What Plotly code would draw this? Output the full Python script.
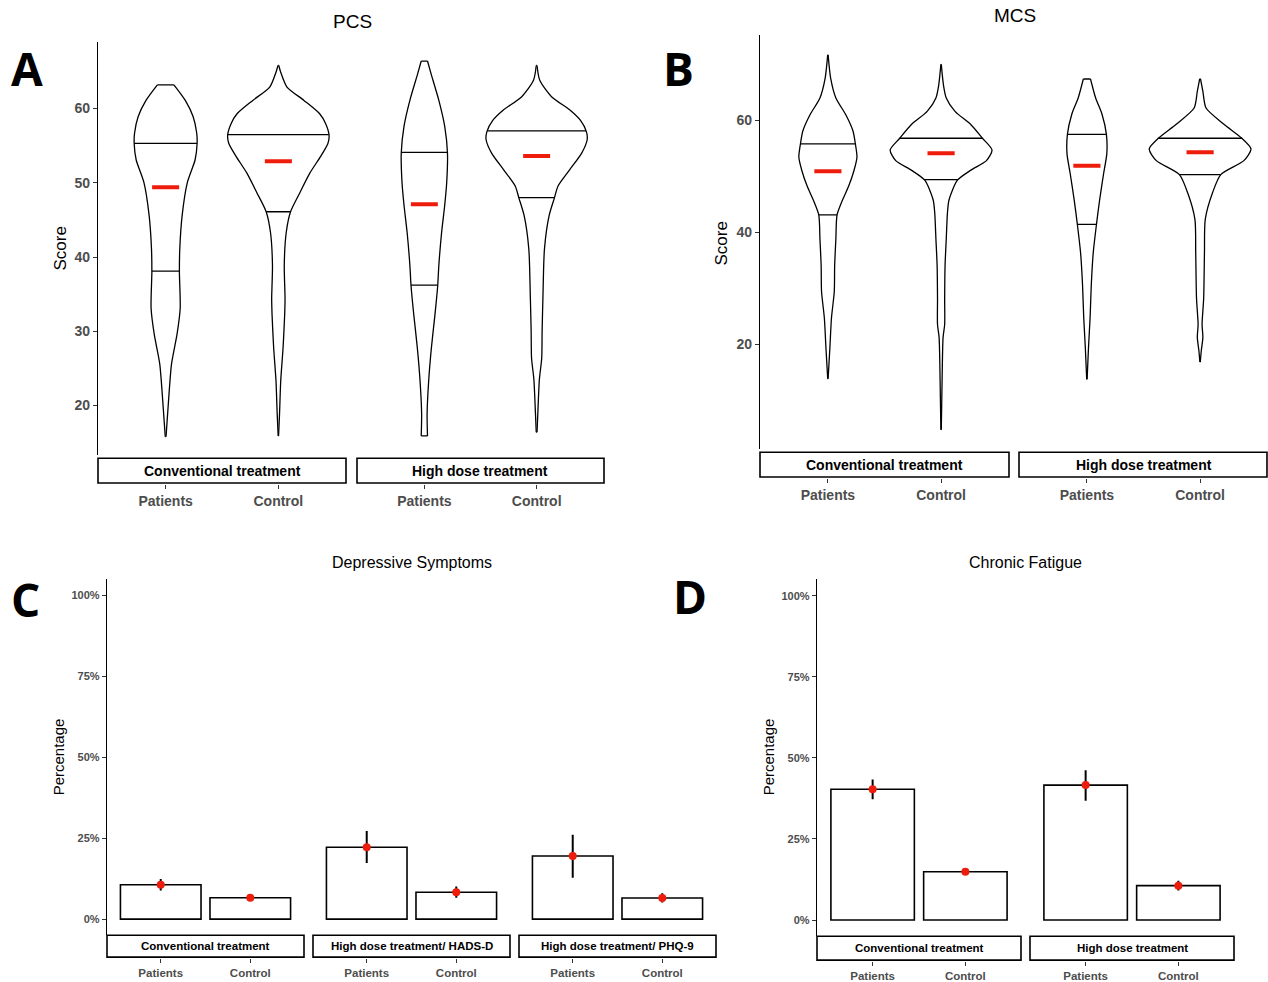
import numpy as np
import plotly.graph_objects as go

W, H = 1268, 982
groups = ["Patients", "Control"]

# ---------------- Panel A: PCS violin profiles (score level, relative density) ----------
pcs_conv_pat_y = [63.2, 61.1, 58.9, 56.7, 55.3, 53.1, 50.0, 45.6, 41.1, 38.0, 33.1, 29.6, 25.6, 21.1, 15.8]
pcs_conv_pat_d = [21, 50, 70, 79, 80, 75, 55, 42, 36, 35, 37, 29, 15, 8, 1]
pcs_conv_ctl_y = [65.8, 64.9, 62.9, 61.1, 59.3, 58.0, 56.4, 55.3, 53.6, 51.3, 48.7, 46.1, 43.3, 38.9, 34.4, 32.2, 27.8, 23.3, 18.9, 15.9]
pcs_conv_ctl_d = [1, 6, 22, 65, 105, 120, 129, 126, 108, 80, 55, 31, 20, 15, 17, 16, 12, 6, 3, 0.5]
pcs_high_pat_y = [66.4, 64.7, 61.1, 57.6, 54.0, 50.0, 47.0, 43.3, 38.9, 36.1, 32.2, 27.8, 23.3, 18.9, 15.9]
pcs_high_pat_d = [8, 17, 37, 52, 59, 57, 52, 44, 37, 34, 27, 18, 11, 7, 8]
pcs_high_ctl_y = [65.8, 63.8, 61.6, 59.8, 58.4, 56.9, 55.8, 54.0, 51.8, 49.6, 47.9, 45.6, 41.1, 34.4, 30.0, 26.4, 23.5, 18.9, 16.4]
pcs_high_ctl_d = [1, 8, 38, 85, 112, 127, 129, 115, 85, 55, 45, 32, 20, 16, 14, 13, 7, 3, 1]
pcs_q25 = [38.1, 46.1, 36.2, 48.0]
pcs_q75 = [55.3, 56.5, 54.1, 57.0]
pcs_mean = [49.4, 52.9, 47.1, 53.6]

# ---------------- Panel B: MCS violin profiles ----------------
mcs_conv_pat_y = [71.7, 67.5, 64.0, 61.0, 58.1, 55.8, 53.4, 50.9, 48.2, 45.8, 43.1, 38.8, 34.1, 29.4, 24.7, 19.4, 13.8]
mcs_conv_pat_d = [0.5, 7, 20, 45, 63, 69, 73, 65, 52, 37, 23, 20, 17, 16, 9, 5, 0.5]
mcs_conv_ctl_y = [70.0, 66.3, 64.0, 61.6, 59.3, 56.8, 54.7, 52.8, 51.1, 49.3, 45.8, 43.5, 38.8, 34.1, 28.2, 23.5, 21.2, 13.5, 4.7]
mcs_conv_ctl_d = [0.5, 6, 13, 35, 74, 104, 128, 114, 75, 41, 20, 16, 13, 10, 9, 9, 5, 2.5, 0.5]
mcs_high_pat_y = [67.4, 64.0, 61.1, 57.5, 54.0, 50.5, 45.8, 41.4, 36.4, 30.6, 24.7, 19.4, 13.7]
mcs_high_pat_d = [9, 22, 38, 49, 50, 42, 32, 24, 16, 11, 8, 4, 0.5]
mcs_high_ctl_y = [67.4, 65.2, 62.2, 59.3, 56.8, 54.9, 52.8, 50.3, 47.0, 42.3, 36.4, 28.2, 23.5, 21.2, 18.8, 16.8]
mcs_high_ctl_d = [1, 7, 15, 60, 105, 128, 110, 52, 31, 13, 11, 9, 5, 7, 3, 0.5]
mcs_q25 = [43.1, 49.4, 41.4, 50.3]
mcs_q75 = [55.8, 56.8, 57.5, 56.8]
mcs_mean = [50.9, 54.1, 51.9, 54.3]

# ---------------- Panel C: Depressive symptoms (%) ----------------
dep_facets = ["Conventional treatment", "High dose treatment/ HADS-D", "High dose treatment/ PHQ-9"]
dep_conv = [10.6, 6.6]
dep_conv_lo = [8.8, 5.9]
dep_conv_hi = [12.4, 7.3]
dep_hads = [22.2, 8.3]
dep_hads_lo = [17.3, 6.6]
dep_hads_hi = [27.2, 10.1]
dep_phq = [19.5, 6.5]
dep_phq_lo = [12.8, 5.1]
dep_phq_hi = [26.1, 8.0]

# ---------------- Panel D: Chronic fatigue (%) ----------------
fat_facets = ["Conventional treatment", "High dose treatment"]
fat_conv = [40.3, 14.9]
fat_conv_lo = [37.2, 13.9]
fat_conv_hi = [43.3, 15.9]
fat_high = [41.6, 10.6]
fat_high_lo = [36.8, 9.1]
fat_high_hi = [46.2, 12.1]

pct_ticks = [0, 25, 50, 75, 100]
pct_labels = ["0%", "25%", "50%", "75%", "100%"]

RED = "#EE1C0A"
TICKCOL = "#4D4D4D"
NARROW = "Liberation Sans Narrow, Arial Narrow, Liberation Sans, Arial, sans-serif"
SANS = "Liberation Sans, Arial, sans-serif"
BIG = "Open Sans, Liberation Sans, sans-serif"

fig = go.Figure()


def px_x(p):
    return p / W


def px_y(p):
    return 1 - p / H


def seg(xs, ys, xa, ya, color="black", width=1.3, spline=False):
    line = dict(color=color, width=width)
    if spline:
        line.update(shape="spline", smoothing=0.7)
    fig.add_trace(go.Scatter(x=xs, y=ys, mode="lines", line=line,
                             xaxis=xa, yaxis=ya, hoverinfo="skip", showlegend=False))


def add_violin(xc, ys, ds, scale, q25, q75, mean, xa, ya):
    ys = np.asarray(ys, float)
    hw = np.asarray(ds, float) * scale
    # two smooth sides, flat (trimmed) ends drawn as straight segments
    seg(list(xc + hw), list(ys), xa, ya, spline=True)
    seg(list(xc - hw), list(ys), xa, ya, spline=True)
    seg([xc - hw[0], xc + hw[0]], [ys[0], ys[0]], xa, ya)
    seg([xc - hw[-1], xc + hw[-1]], [ys[-1], ys[-1]], xa, ya)
    for q in (q25, q75):
        h = np.interp(q, ys[::-1], hw[::-1])
        seg([xc - h, xc + h], [q, q], xa, ya)
    seg([xc - 0.12, xc + 0.12], [mean, mean], xa, ya, color=RED, width=4)


def add_bars(vals, lo, hi, xa, ya):
    fig.add_trace(go.Bar(x=[1, 2], y=vals, width=0.9, marker=dict(color="white", line=dict(color="black", width=1.6)),
                         xaxis=xa, yaxis=ya, showlegend=False, hoverinfo="skip"))
    fig.add_trace(go.Scatter(x=[1, 2], y=vals, mode="markers",
                             marker=dict(color=RED, size=8),
                             error_y=dict(type="data", symmetric=False,
                                          array=[h - v for h, v in zip(hi, vals)],
                                          arrayminus=[v - l for v, l in zip(vals, lo)],
                                          color="black", thickness=2, width=0),
                             xaxis=xa, yaxis=ya, showlegend=False, hoverinfo="skip"))


layout = dict(width=W, height=H, margin=dict(l=0, r=0, t=0, b=0),
              paper_bgcolor="white", plot_bgcolor="white", showlegend=False)
shapes, annots = [], []


def xaxis_cfg(x0, x1, pos, fsize):
    return dict(domain=[px_x(x0), min(1.0, px_x(x1))], range=[0.4, 2.6], anchor="free", position=pos,
                showgrid=False, zeroline=False, showline=False, ticks="outside", ticklen=4,
                tickcolor="#333333", tickvals=[1, 2], ticktext=groups,
                tickfont=dict(family=NARROW, size=fsize, color=TICKCOL, weight="bold"),
                fixedrange=True)


def yaxis_cfg(y0, y1, rng, tv, tt, anchor, fsize):
    return dict(domain=[px_y(y1), px_y(y0)], range=rng, anchor=anchor, showgrid=False, zeroline=False,
                showline=True, linecolor="black", linewidth=1.4, ticks="outside", ticklen=4,
                tickcolor="#333333", tickvals=tv, ticktext=tt,
                tickfont=dict(family=NARROW, size=fsize, color=TICKCOL, weight="bold"),
                fixedrange=True)


def strip(x0, x1, y0, y1, text, fsize):
    shapes.append(dict(type="rect", xref="paper", yref="paper", x0=px_x(x0), x1=min(0.9992, px_x(x1)),
                       y0=px_y(y1), y1=px_y(y0), line=dict(color="black", width=1.6), fillcolor="white"))
    annots.append(dict(xref="paper", yref="paper", x=px_x((x0 + x1) / 2), y=px_y((y0 + y1) / 2),
                       text=text, showarrow=False, xanchor="center", yanchor="middle",
                       font=dict(family=NARROW, size=fsize, color="black", weight="bold")))


def text(x, y, t, size, bold=False, angle=0, fam=SANS):
    annots.append(dict(xref="paper", yref="paper", x=px_x(x), y=px_y(y), text=t, showarrow=False,
                       xanchor="center", yanchor="middle", textangle=angle,
                       font=dict(family=fam, size=size, color="black", weight="bold" if bold else "normal")))


# ---- Panel A ----
sA = 0.45 / 129
a_profiles = [(pcs_conv_pat_y, pcs_conv_pat_d), (pcs_conv_ctl_y, pcs_conv_ctl_d),
              (pcs_high_pat_y, pcs_high_pat_d), (pcs_high_ctl_y, pcs_high_ctl_d)]
for i, (ys, ds) in enumerate(a_profiles):
    xa = "x" if i < 2 else "x2"
    add_violin(1 + i % 2, ys, ds, sA, pcs_q25[i], pcs_q75[i], pcs_mean[i], xa, "y")
layout["xaxis"] = xaxis_cfg(98, 346, px_y(487), 14)
layout["xaxis2"] = xaxis_cfg(357, 604, px_y(487), 14)
layout["yaxis"] = yaxis_cfg(42, 458, [13.3, 69.0], [20, 30, 40, 50, 60], ["20", "30", "40", "50", "60"], "x", 14)
strip(98, 346, 461, 486, "Conventional treatment", 14)
strip(357, 604, 461, 486, "High dose treatment", 14)
text(352, 22, "PCS", 19)
text(60, 250, "Score", 17, angle=-90)
text(27, 68, "A", 46, bold=True, fam=BIG)

# ---- Panel B ----
sB = 0.45 / 128
b_profiles = [(mcs_conv_pat_y, mcs_conv_pat_d), (mcs_conv_ctl_y, mcs_conv_ctl_d),
              (mcs_high_pat_y, mcs_high_pat_d), (mcs_high_ctl_y, mcs_high_ctl_d)]
for i, (ys, ds) in enumerate(b_profiles):
    xa = "x3" if i < 2 else "x4"
    add_violin(1 + i % 2, ys, ds, sB, mcs_q25[i], mcs_q75[i], mcs_mean[i], xa, "y2")
layout["xaxis3"] = xaxis_cfg(760, 1009, px_y(481), 14)
layout["xaxis4"] = xaxis_cfg(1019, 1268, px_y(481), 14)
layout["yaxis2"] = yaxis_cfg(35, 452, [1.2, 75.3], [20, 40, 60], ["20", "40", "60"], "x3", 14)
strip(760, 1009, 455, 480, "Conventional treatment", 14)
strip(1019, 1268, 455, 480, "High dose treatment", 14)
text(1015, 16, "MCS", 19)
text(722, 245, "Score", 17, angle=-90)
text(678, 68, "B", 46, bold=True, fam=BIG)

# ---- Panel C ----
c_sets = [(dep_conv, dep_conv_lo, dep_conv_hi), (dep_hads, dep_hads_lo, dep_hads_hi), (dep_phq, dep_phq_lo, dep_phq_hi)]
c_x = [(107, 304), (313, 510), (519, 716)]
for i, (v, lo, hi) in enumerate(c_sets):
    xa = "x%d" % (5 + i)
    add_bars(v, lo, hi, xa, "y3")
    layout["xaxis%d" % (5 + i)] = xaxis_cfg(c_x[i][0], c_x[i][1], px_y(964), 11.5)
    strip(c_x[i][0], c_x[i][1], 941, 963, dep_facets[i], 11.5)
layout["yaxis3"] = yaxis_cfg(583, 941, [-5, 105], pct_ticks, pct_labels, "x5", 11)
text(412, 566, "Depressive Symptoms", 16)
text(58, 762, "Percentage", 15, angle=-90)
text(25, 603, "C", 46, bold=True, fam=BIG)

# ---- Panel D ----
d_sets = [(fat_conv, fat_conv_lo, fat_conv_hi), (fat_high, fat_high_lo, fat_high_hi)]
d_x = [(817, 1021), (1030, 1234)]
for i, (v, lo, hi) in enumerate(d_sets):
    xa = "x%d" % (8 + i)
    add_bars(v, lo, hi, xa, "y4")
    layout["xaxis%d" % (8 + i)] = xaxis_cfg(d_x[i][0], d_x[i][1], px_y(967), 11.5)
    strip(d_x[i][0], d_x[i][1], 942, 966, fat_facets[i], 11.5)
layout["yaxis4"] = yaxis_cfg(583, 942, [-5, 105], pct_ticks, pct_labels, "x8", 11)
text(1025, 566, "Chronic Fatigue", 16)
text(768, 762, "Percentage", 15, angle=-90)
text(690, 600, "D", 46, bold=True, fam=BIG)

layout["shapes"] = shapes
layout["annotations"] = annots
fig.update_layout(**layout)
# remove the browser's default 8px body margin so the figure fills the window exactly
fig.write_html("out.html", config={"displayModeBar": False},
               post_script="document.body.style.margin='0';document.body.style.overflow='hidden';")
